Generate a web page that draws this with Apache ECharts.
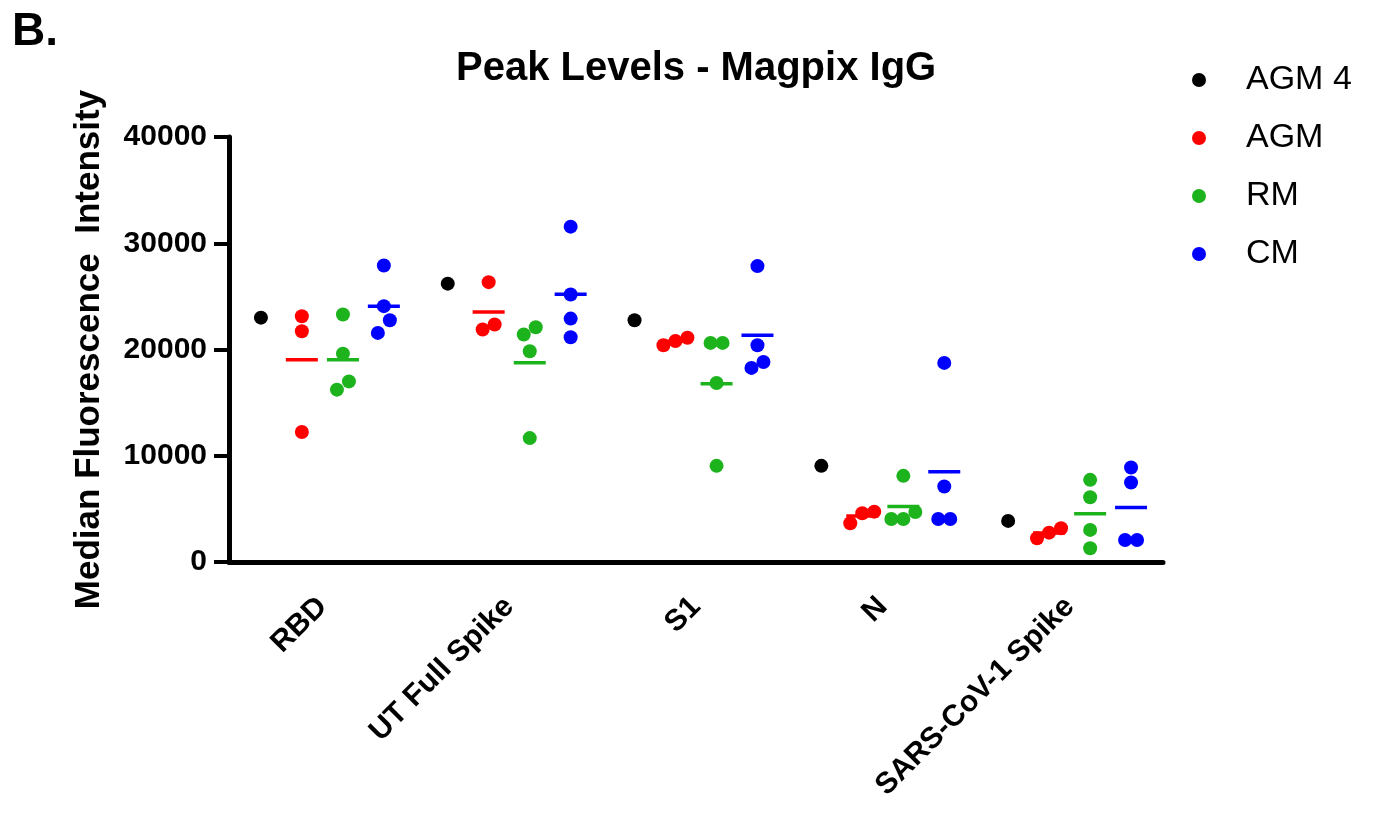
<!DOCTYPE html>
<html>
<head>
<meta charset="utf-8">
<script src="https://cdn.jsdelivr.net/npm/echarts@6/dist/echarts.min.js"></script>
<style>
  html, body { margin: 0; padding: 0; background: #fff; }
  #chart { width: 1375px; height: 816px; }
</style>
</head>
<body>
<div id="chart"></div>
<script>
// categories on the x axis
const categories = ["RBD", "UT Full Spike", "S1", "N", "SARS-CoV-1 Spike"];

// single animal, one value per antigen
const agm4 = [23000, 26200, 22750, 9050, 3870];

// groups, one list of values per antigen
const agm = [
    [23130, 21720, 12230],
    [26340, 21880, 22350],
    [20400, 21100, 20800],
    [3650, 4740, 4590],
    [2230, 3180, 2760],
];
const rm = [
    [23290, 19610, 17000, 16220],
    [21410, 22100, 19830, 11660],
    [20620, 20620, 16850, 9050],
    [8110, 4700, 4050, 4050],
    [7730, 6100, 3020, 1290],
];
const cm = [
    [27910, 24080, 22750, 21560],
    [31560, 25180, 22910, 21150],
    [27850, 20400, 18830, 18270],
    [18740, 7100, 4050, 4050],
    [8890, 7480, 2075, 2075],
];

const yTicks = [0, 10000, 20000, 30000, 40000];

const font = "'Liberation Sans', Arial, sans-serif";
const gridLeft = 229, gridRight = 212, gridTop = 137, gridBottom = 254;
const catWidth = (1375 - gridLeft - gridRight) / categories.length;
const pxPerUnit = (816 - gridTop - gridBottom) / 40000;
const dot = 14;

// horizontal spread so overlapping dots sit side by side (lower value on the left)
function spread(values) {
    const order = values.map((v, i) => i).sort((a, b) => values[a] - values[b]);
    const offsets = new Array(values.length).fill(0);
    let cluster = [order[0]];
    const flush = () => {
        cluster.forEach((idx, j) => {
            offsets[idx] = (j - (cluster.length - 1) / 2) * (dot - 2);
        });
    };
    for (let k = 1; k < order.length; k++) {
        const prev = values[cluster[cluster.length - 1]];
        if ((values[order[k]] - prev) * pxPerUnit < dot - 1) {
            cluster.push(order[k]);
        } else {
            flush();
            cluster = [order[k]];
        }
    }
    flush();
    return offsets;
}

const subOffset = [-0.329, -0.11, 0.11, 0.329];

function points(groups, sub) {
    const out = [];
    groups.forEach((vals, ci) => {
        const offs = spread(vals);
        vals.forEach((v, i) => {
            out.push([ci + subOffset[sub] + offs[i] / catWidth, v]);
        });
    });
    return out;
}

function means(groups, sub) {
    return groups.map((vals, ci) => {
        const m = vals.reduce((a, b) => a + b, 0) / vals.length;
        return [ci + subOffset[sub], m];
    });
}

const colors = ["#000000", "#ff0000", "#1db31d", "#0000ff"];
const names = ["AGM 4", "AGM", "RM", "CM"];
const groupsList = [agm4.map((v) => [v]), agm, rm, cm];

const series = [];
groupsList.forEach((g, s) => {
    series.push({
        name: names[s],
        type: "scatter",
        xAxisIndex: 1,
        symbol: "circle",
        symbolSize: dot,
        itemStyle: { color: colors[s], opacity: 1 },
        data: points(g, s),
        z: 2,
    });
});
groupsList.forEach((g, s) => {
    if (s === 0) return;
    series.push({
        name: names[s],
        type: "scatter",
        xAxisIndex: 1,
        symbol: "rect",
        symbolSize: [32, 3.5],
        itemStyle: { color: colors[s], opacity: 1 },
        data: means(g, s),
        z: 3,
    });
});

const chart = echarts.init(document.getElementById("chart"));

const option = {
    animation: false,
    backgroundColor: "#ffffff",
    title: [
        {
            text: "Peak Levels - Magpix IgG",
            left: 451,
            top: 44,
            textStyle: { fontFamily: font, fontSize: 40, fontWeight: "bold", color: "#000" },
        },
        {
            text: "B.",
            left: 7,
            top: 4,
            textStyle: { fontFamily: font, fontSize: 46, fontWeight: "bold", color: "#000" },
        },
    ],
    legend: {
        data: names,
        orient: "vertical",
        left: 1187,
        top: 58,
        icon: "circle",
        itemWidth: 14,
        itemHeight: 14,
        itemGap: 24,
        selectedMode: false,
        textStyle: {
            fontFamily: font,
            fontSize: 34,
            lineHeight: 32,
            color: "#000",
            padding: [0, 0, 0, 35],
        },
    },
    grid: { left: gridLeft, right: gridRight, top: gridTop, bottom: gridBottom },
    xAxis: [
        {
            type: "category",
            data: categories,
            boundaryGap: true,
            axisLine: { lineStyle: { color: "#000", width: 5 } },
            axisTick: { alignWithLabel: true, length: 18, lineStyle: { color: "#000", width: 4 } },
            axisLabel: {
                interval: 0,
                rotate: 45,
                margin: 40,
                fontFamily: font,
                fontSize: 30,
                fontWeight: "bold",
                color: "#000",
            },
            splitLine: { show: false },
        },
        {
            type: "value",
            min: -0.5,
            max: 4.5,
            show: false,
            splitLine: { show: false },
        },
    ],
    yAxis: {
        type: "value",
        min: yTicks[0],
        max: yTicks[yTicks.length - 1],
        interval: 10000,
        name: "Median Fluorescence  Intensity",
        nameLocation: "middle",
        nameRotate: 90,
        nameGap: 122,
        nameTextStyle: { fontFamily: font, fontSize: 35, fontWeight: "bold", color: "#000" },
        axisLine: { show: true, onZero: false, lineStyle: { color: "#000", width: 5 } },
        axisTick: { show: true, length: 15, lineStyle: { color: "#000", width: 4 } },
        axisLabel: {
            margin: 22,
            fontFamily: font,
            fontSize: 30,
            fontWeight: "bold",
            color: "#000",
            formatter: (v) => String(v),
        },
        splitLine: { show: false },
    },
    series: series,
};

chart.setOption(option);
</script>
</body>
</html>
